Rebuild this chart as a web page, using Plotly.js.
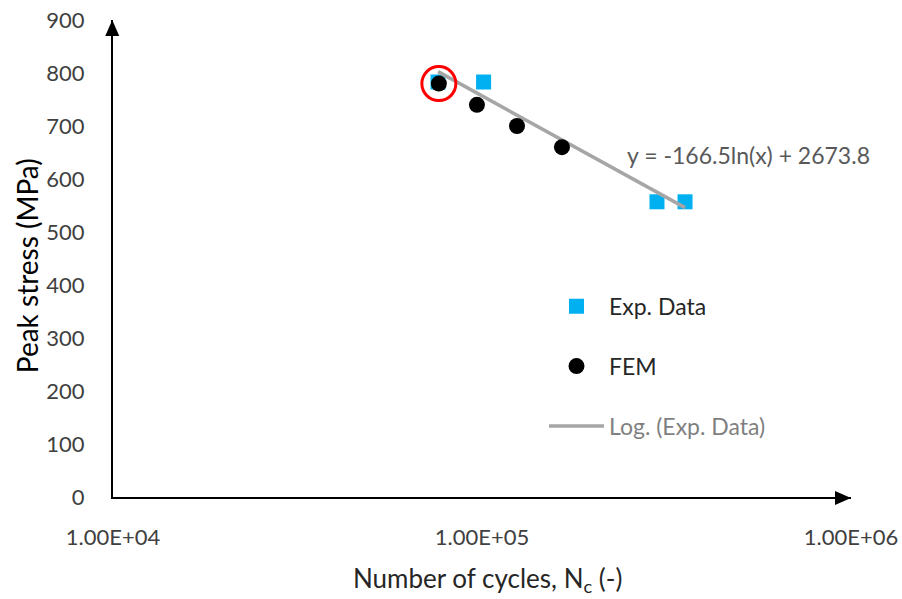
<!DOCTYPE html>
<html>
<head>
<meta charset="utf-8">
<script src="https://cdn.plot.ly/plotly-3.0.1.min.js"></script>
<style>
  html, body { margin: 0; padding: 0; background: #fff; }
  #chart { width: 902px; height: 599px; }
</style>
</head>
<body>
<div id="chart"></div>
<script>
// Experimental fatigue results (cycles to failure, peak stress in MPa)
const expCycles = [76000, 101000, 298000, 355000];
const expStress = [783, 783, 557, 557];

// Finite element predictions
const femCycles = [76400, 96900, 124400, 164700];
const femStress = [780, 740, 700, 660];

// Logarithmic trendline of the experimental data: y = a ln(x) + b
const trendCoef = [-166.5, 2673.8];

// Axis ticks
const xTickVals = [1e4, 1e5, 1e6];
const xTickText = ['1.00E+04', '1.00E+05', '1.00E+06'];
const yTickVals = [0, 100, 200, 300, 400, 500, 600, 700, 800, 900];

const FONT = 'Lato, "Open Sans", sans-serif';

const trendX = [Math.min(...expCycles), Math.max(...expCycles)];
const trendY = trendX.map(x => trendCoef[0] * Math.log(x) + trendCoef[1]);

const traces = [
  {
    x: expCycles, y: expStress, type: 'scatter', mode: 'markers',
    name: 'Exp. Data', legendgroup: 'exp', legendrank: 1,
    marker: { symbol: 'square', size: 15, color: '#00B0F0' }
  },
  {
    x: trendX, y: trendY, type: 'scatter', mode: 'lines',
    name: '<span style="color:#7f7f7f">Log. (Exp. Data)</span>', legendgroup: 'trend', legendrank: 3,
    line: { color: '#A6A6A6', width: 3.5 }
  },
  {
    x: femCycles, y: femStress, type: 'scatter', mode: 'markers',
    name: 'FEM', legendgroup: 'fem', legendrank: 2,
    marker: { symbol: 'circle', size: 16, color: '#000000' }
  },
  {
    // highlight ring around the first FEM result
    x: [femCycles[0]], y: [femStress[0]], type: 'scatter', mode: 'markers',
    showlegend: false, hoverinfo: 'skip',
    marker: { symbol: 'circle-open', size: 34, color: '#FF0000', line: { width: 3, color: '#FF0000' } }
  }
];

// arrowhead sizes in paper units of the 738 x 477 px plot area
const headLen = 16, headHalf = 7;
const pw = 738, ph = 477;

const layout = {
  width: 902, height: 599,
  margin: { l: 113, r: 51, t: 20, b: 102 },
  paper_bgcolor: '#ffffff', plot_bgcolor: '#ffffff',
  font: { family: FONT, size: 22, color: '#404040' },
  showlegend: true,
  legend: {
    x: 0.584, y: 0.445, xanchor: 'left', yanchor: 'top',
    traceorder: 'grouped', tracegroupgap: 27, itemwidth: 55,
    font: { family: FONT, size: 23, color: '#262626' },
    bgcolor: 'rgba(0,0,0,0)'
  },
  xaxis: {
    type: 'log', range: [4, 6],
    tickvals: xTickVals, ticktext: xTickText,
    showgrid: false, zeroline: false, ticks: '',
    showline: true, linecolor: '#000000', linewidth: 2,
    ticklabelstandoff: 20,
    tickfont: { family: FONT, size: 22, color: '#404040' }
  },
  yaxis: {
    range: [0, 900], tickvals: yTickVals,
    showgrid: false, zeroline: false, ticks: '',
    showline: true, linecolor: '#000000', linewidth: 2,
    ticklabelstandoff: 22,
    tickfont: { family: FONT, size: 22, color: '#404040' }
  },
  shapes: [
    // arrowhead at the top of the stress axis
    { type: 'path', xref: 'paper', yref: 'paper',
      path: `M -0.001,1 L ${-0.001 - headHalf / pw},${1 - headLen / ph} L ${-0.001 + headHalf / pw},${1 - headLen / ph} Z`,
      fillcolor: '#000000', line: { width: 0 } },
    // arrowhead at the end of the cycles axis
    { type: 'path', xref: 'paper', yref: 'paper',
      path: `M 1,-0.002 L ${1 - headLen / pw},${-0.002 + headHalf / ph} L ${1 - headLen / pw},${-0.002 - headHalf / ph} Z`,
      fillcolor: '#000000', line: { width: 0 } }
  ],
  annotations: [
    // axis titles
    { xref: 'paper', yref: 'paper', x: -0.1165, y: 0.484, textangle: -90,
      text: 'Peak stress (MPa)', showarrow: false, xanchor: 'center', yanchor: 'middle',
      font: { family: FONT, size: 28, color: '#000000' } },
    { xref: 'paper', yref: 'paper', x: 0.507, y: -0.174,
      text: 'Number of cycles, N<sub>c</sub> (-)', showarrow: false, xanchor: 'center', yanchor: 'middle',
      font: { family: FONT, size: 26, color: '#262626' } },
    // trendline equation
    { xref: 'paper', yref: 'paper', x: 0.694, y: 0.717,
      text: 'y = ' + trendCoef[0] + 'ln(x) + ' + trendCoef[1], showarrow: false,
      xanchor: 'left', yanchor: 'middle',
      font: { family: FONT, size: 23, color: '#595959' } }
  ]
};

Plotly.newPlot('chart', traces, layout, { displayModeBar: false, staticPlot: true });
</script>
</body>
</html>
